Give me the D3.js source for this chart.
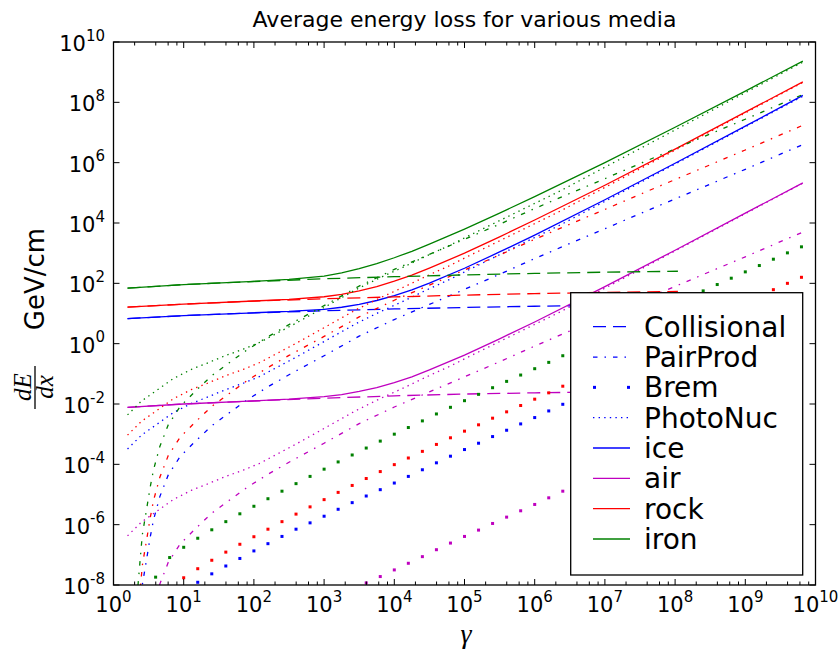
<!DOCTYPE html>
<html><head><meta charset="utf-8">
<script src="https://cdn.jsdelivr.net/npm/d3@7"></script>
<style>body{margin:0;background:#fff} svg{display:block}</style>
</head><body>
<svg id="chart" width="839" height="651"></svg>
<script>
// All series: [log10(gamma), log10(dE/dx  GeV/cm)]
const iceCollisional  = [[0.2,0.83],[1,0.93],[2,1.02],[3,1.09],[4,1.15],[5,1.20],[6,1.24],[7,1.27],[8.04,1.30]];
const airCollisional  = [[0.2,-2.11],[1,-2.0],[2,-1.9],[3,-1.81],[4,-1.73],[5,-1.67],[6,-1.63],[7,-1.60],[8.04,-1.57]];
const rockCollisional = [[0.2,1.21],[1,1.31],[2,1.41],[3,1.49],[4,1.55],[5,1.61],[6,1.66],[7,1.70],[8.04,1.73]];
const ironCollisional = [[0.2,1.84],[1,1.96],[2,2.06],[3,2.15],[4,2.22],[5,2.28],[6,2.33],[7,2.37],[8.04,2.40]];

const icePairProd  = [[0.30,-11.0],[0.41,-8.0],[0.47,-7.17],[0.52,-6.45],[0.57,-5.84],[0.66,-5.07],[0.78,-4.35],[0.95,-3.74],[1.16,-3.25],[1.4,-2.72],[1.65,-2.29],[1.9,-1.87],[2.2,-1.43],[2.5,-1.03],[3.0,-0.40],[3.5,0.25],[4.0,0.80],[4.5,1.30],[5.0,1.80],[5.5,2.30],[6.0,2.82],[6.5,3.32],[7.0,3.81],[7.5,4.31],[8.0,4.80],[8.5,5.29],[9.0,5.78],[9.5,6.28],[9.82,6.60]];
const airPairProd  = [[0.30,-13.9],[0.41,-10.9],[0.47,-10.07],[0.52,-9.35],[0.57,-8.74],[0.66,-7.97],[0.78,-7.25],[0.95,-6.64],[1.16,-6.15],[1.4,-5.62],[1.65,-5.19],[1.9,-4.77],[2.2,-4.33],[2.5,-3.93],[3.0,-3.30],[3.5,-2.65],[4.0,-2.10],[4.5,-1.60],[5.0,-1.10],[5.5,-0.60],[6.0,-0.08],[6.5,0.42],[7.0,0.91],[7.5,1.41],[8.0,1.90],[8.5,2.39],[9.0,2.88],[9.5,3.38],[9.82,3.70]];
const rockPairProd = [[0.30,-10.36],[0.41,-7.36],[0.47,-6.53],[0.52,-5.81],[0.57,-5.20],[0.66,-4.43],[0.78,-3.71],[0.95,-3.10],[1.16,-2.61],[1.4,-2.08],[1.65,-1.65],[1.9,-1.23],[2.2,-0.79],[2.5,-0.39],[3.0,0.24],[3.5,0.89],[4.0,1.44],[4.5,1.94],[5.0,2.44],[5.5,2.94],[6.0,3.46],[6.5,3.96],[7.0,4.45],[7.5,4.95],[8.0,5.44],[8.5,5.93],[9.0,6.42],[9.5,6.92],[9.82,7.24]];
const ironPairProd = [[0.30,-9.34],[0.41,-6.34],[0.47,-5.51],[0.52,-4.79],[0.57,-4.18],[0.66,-3.41],[0.78,-2.69],[0.95,-2.08],[1.16,-1.59],[1.4,-1.06],[1.65,-0.63],[1.9,-0.21],[2.2,0.23],[2.5,0.63],[3.0,1.26],[3.5,1.91],[4.0,2.46],[4.5,2.96],[5.0,3.46],[5.5,3.96],[6.0,4.48],[6.5,4.98],[7.0,5.47],[7.5,5.97],[8.0,6.46],[8.5,6.95],[9.0,7.44],[9.5,7.94],[9.82,8.26]];

const icePhotoNuc  = [[0.2,-3.49],[0.4,-3.03],[0.62,-2.67],[0.85,-2.29],[1.11,-1.98],[1.33,-1.78],[1.59,-1.53],[1.85,-1.31],[2.09,-1.08],[2.3,-0.82],[2.6,-0.45],[3.0,0.07],[3.46,0.67],[3.8,1.06],[4.13,1.41],[4.46,1.78],[4.79,2.13],[5.08,2.47],[6.36,3.93],[7.64,5.51],[9.82,8.2]];
const airPhotoNuc  = [[0.2,-6.37],[0.4,-5.91],[0.62,-5.55],[0.85,-5.17],[1.11,-4.86],[1.33,-4.66],[1.59,-4.41],[1.85,-4.19],[2.09,-3.96],[2.3,-3.70],[2.6,-3.33],[3.0,-2.81],[3.46,-2.21],[3.8,-1.82],[4.13,-1.47],[4.46,-1.10],[4.79,-0.75],[5.08,-0.41],[6.36,1.05],[7.64,2.63],[9.82,5.32]];
const rockPhotoNuc = [[0.2,-3.03],[0.4,-2.57],[0.62,-2.21],[0.85,-1.83],[1.11,-1.52],[1.33,-1.32],[1.59,-1.07],[1.85,-0.85],[2.09,-0.62],[2.3,-0.36],[2.6,0.01],[3.0,0.53],[3.46,1.13],[3.8,1.52],[4.13,1.87],[4.46,2.24],[4.79,2.59],[5.08,2.93],[6.36,4.39],[7.64,5.97],[9.82,8.66]];
const ironPhotoNuc = [[0.2,-2.36],[0.4,-1.90],[0.62,-1.54],[0.85,-1.16],[1.11,-0.85],[1.33,-0.65],[1.59,-0.40],[1.85,-0.18],[2.09,0.05],[2.3,0.31],[2.6,0.68],[3.0,1.20],[3.46,1.80],[3.8,2.19],[4.13,2.54],[4.46,2.91],[4.79,3.26],[5.08,3.60],[6.36,5.06],[7.64,6.64],[9.82,9.33]];

const iceTotal  = [[0.2,0.83],[1,0.93],[2,1.024],[2.5,1.069],[3,1.14],[3.25,1.207],[3.5,1.305],[3.75,1.431],[4,1.59],[4.25,1.78],[4.5,2.01],[5,2.50],[5.5,3.04],[6,3.60],[7,4.77],[8,5.98],[9,7.21],[9.82,8.23]];
const airTotal  = [[0.2,-2.11],[1,-2.0],[2,-1.896],[2.5,-1.841],[3,-1.758],[3.25,-1.686],[3.5,-1.582],[3.75,-1.454],[4,-1.29],[4.25,-1.102],[4.5,-0.872],[5,-0.38],[5.5,0.161],[6,0.718],[7,1.889],[8,3.098],[9,4.326],[9.82,5.33]];
const rockTotal = [[0.2,1.21],[1,1.31],[2,1.415],[2.5,1.468],[3,1.555],[3.25,1.633],[3.5,1.75],[3.75,1.89],[4,2.07],[4.25,2.27],[4.5,2.505],[5,3.0],[5.5,3.54],[6,4.10],[7,5.25],[8,6.45],[9,7.675],[9.82,8.676]];
const ironTotal = [[0.2,1.84],[1,1.96],[2,2.067],[2.5,2.131],[3,2.242],[3.25,2.343],[3.5,2.484],[3.75,2.65],[4,2.848],[4.25,3.062],[4.5,3.30],[5,3.80],[5.5,4.33],[6,4.876],[7,6.0],[8,7.173],[9,8.374],[9.82,9.366]];

// Brem is drawn as markers on the computation grid
const bremLogGamma = [0.2,0.4,0.6,0.8,1.0,1.2,1.4,1.6,1.8,2.0,2.2,2.4,2.6,2.8,3.0,3.2,3.4,3.6,3.8,4.0,4.2,4.4,4.6,4.8,5.0,5.2,5.4,5.6,5.8,6.0,6.2,6.4,6.6,6.8,7.0,7.2,7.4,7.6,7.8,8.0,8.2,8.4,8.6,8.8,9.0,9.2,9.4,9.6,9.8];
const iceBrem  = [-13.5,-11.0,-9.22,-8.57,-8.22,-7.91,-7.63,-7.37,-7.12,-6.87,-6.63,-6.39,-6.15,-5.94,-5.72,-5.49,-5.27,-5.05,-4.84,-4.62,-4.40,-4.18,-3.95,-3.73,-3.51,-3.30,-3.08,-2.87,-2.66,-2.45,-2.23,-2.01,-1.80,-1.59,-1.38,-1.16,-0.95,-0.74,-0.53,-0.32,-0.10,0.11,0.32,0.53,0.74,0.95,1.16,1.37,1.58];
const airBrem  = [-16.4,-13.9,-12.1,-11.45,-11.1,-10.79,-10.51,-10.25,-10.0,-9.75,-9.51,-9.27,-9.03,-8.82,-8.60,-8.37,-8.15,-7.93,-7.72,-7.50,-7.28,-7.06,-6.83,-6.61,-6.39,-6.18,-5.96,-5.75,-5.54,-5.33,-5.11,-4.89,-4.68,-4.47,-4.26,-4.04,-3.83,-3.62,-3.41,-3.20,-2.98,-2.77,-2.56,-2.35,-2.14,-1.93,-1.72,-1.51,-1.30];
const rockBrem = [-13.0,-10.5,-8.75,-8.10,-7.76,-7.46,-7.18,-6.91,-6.65,-6.40,-6.15,-5.90,-5.65,-5.41,-5.17,-4.93,-4.70,-4.47,-4.24,-4.01,-3.79,-3.57,-3.34,-3.12,-2.90,-2.69,-2.47,-2.26,-2.05,-1.84,-1.63,-1.41,-1.20,-0.98,-0.77,-0.56,-0.34,-0.13,0.09,0.30,0.52,0.74,0.95,1.16,1.37,1.58,1.79,2.00,2.20];
const ironBrem = [-12.0,-9.5,-7.74,-7.09,-6.75,-6.45,-6.17,-5.90,-5.64,-5.39,-5.14,-4.89,-4.64,-4.40,-4.16,-3.92,-3.69,-3.46,-3.23,-3.00,-2.78,-2.56,-2.33,-2.11,-1.89,-1.68,-1.46,-1.25,-1.04,-0.83,-0.62,-0.40,-0.19,0.03,0.24,0.45,0.67,0.88,1.10,1.31,1.53,1.75,1.96,2.17,2.38,2.59,2.80,3.01,3.21];

const xTickExponents = [0,1,2,3,4,5,6,7,8,9,10];
const yTickExponents = [-8,-6,-4,-2,0,2,4,6,8,10];
const minorMultipliers = [2,4,6,8];
const legendLabels = ["Collisional","PairProd","Brem","PhotoNuc","ice","air","rock","iron"];
const mediaNames = ["ice","air","rock","iron"];
const mediaColors = ["#0000ff","#bf00bf","#ff0000","#008000"];

const media = [
  {coll: iceCollisional, pair: icePairProd, brem: iceBrem, photo: icePhotoNuc, total: iceTotal},
  {coll: airCollisional, pair: airPairProd, brem: airBrem, photo: airPhotoNuc, total: airTotal},
  {coll: rockCollisional, pair: rockPairProd, brem: rockBrem, photo: rockPhotoNuc, total: rockTotal},
  {coll: ironCollisional, pair: ironPairProd, brem: ironBrem, photo: ironPhotoNuc, total: ironTotal}
].map((m,i)=>Object.assign(m,{name:mediaNames[i], color:mediaColors[i]}));

const L = 113.5, R = 815.5, T = 42, B = 585;
const x = d3.scaleLog().domain([1,1e10]).range([L,R]);
const y = d3.scaleLog().domain([1e-8,1e10]).range([B,T]);
const svg = d3.select("#chart");
const font = "DejaVu Sans, sans-serif";
const serif = "Liberation Serif, DejaVu Serif, serif";
const STYLES = { dashed: "13,7", dashdot: "4.5,7,1.5,7", dotted: "1.4,4.2" };
const LW = 1.3;

svg.append("rect").attr("width",839).attr("height",651).attr("fill","#fff");
svg.append("clipPath").attr("id","clip").append("rect")
  .attr("x",L).attr("y",T).attr("width",R-L).attr("height",B-T);

const pw = v => Math.pow(10, v);
const line = d3.line().x(d=>x(pw(d[0]))).y(d=>y(pw(d[1])));
const plot = svg.append("g").attr("clip-path","url(#clip)");

media.forEach(m=>{
  plot.append("path").attr("d",line(m.coll)).attr("fill","none").attr("stroke",m.color)
    .attr("stroke-width",LW).attr("stroke-dasharray",STYLES.dashed);
  plot.append("path").attr("d",line(m.pair)).attr("fill","none").attr("stroke",m.color)
    .attr("stroke-width",LW).attr("stroke-dasharray",STYLES.dashdot);
  plot.append("g").selectAll("rect").data(bremLogGamma.map((g,i)=>[g,m.brem[i]]))
    .join("rect")
    .attr("x",d=>x(pw(d[0]))-1.5).attr("y",d=>y(pw(d[1]))-1.5)
    .attr("width",3).attr("height",3).attr("fill",m.color);
  plot.append("path").attr("d",line(m.photo)).attr("fill","none").attr("stroke",m.color)
    .attr("stroke-width",LW).attr("stroke-dasharray",STYLES.dotted);
  plot.append("path").attr("d",line(m.total)).attr("fill","none").attr("stroke",m.color)
    .attr("stroke-width",LW);
});

// frame
svg.append("rect").attr("x",L).attr("y",T).attr("width",R-L).attr("height",B-T)
  .attr("fill","none").attr("stroke","#000").attr("stroke-width",1.3);

// ticks (inward, all four sides)
const tk = svg.append("g").attr("stroke","#000").attr("stroke-width",1);
const MAJ = 6, MIN = 3.5;
xTickExponents.forEach(e=>{
  const xv = x(pw(e));
  tk.append("line").attr("x1",xv).attr("x2",xv).attr("y1",B).attr("y2",B-MAJ);
  tk.append("line").attr("x1",xv).attr("x2",xv).attr("y1",T).attr("y2",T+MAJ);
  if (e < 10) minorMultipliers.forEach(mm=>{
    const xm = x(mm*pw(e));
    tk.append("line").attr("x1",xm).attr("x2",xm).attr("y1",B).attr("y2",B-MIN);
    tk.append("line").attr("x1",xm).attr("x2",xm).attr("y1",T).attr("y2",T+MIN);
  });
});
yTickExponents.forEach(e=>{
  const yv = y(pw(e));
  tk.append("line").attr("x1",L).attr("x2",L+MAJ).attr("y1",yv).attr("y2",yv);
  tk.append("line").attr("x1",R).attr("x2",R-MAJ).attr("y1",yv).attr("y2",yv);
});

// tick labels
const lab = svg.append("g").attr("font-family",font).attr("fill","#000");
xTickExponents.forEach(e=>{
  const t = lab.append("text").attr("x",x(pw(e))).attr("y",B+27)
    .attr("text-anchor","middle").attr("font-size",21);
  t.append("tspan").text("10");
  t.append("tspan").attr("dy",-10.5).attr("font-size",15).text(String(e));
});
yTickExponents.forEach(e=>{
  const t = lab.append("text").attr("x",105).attr("y",y(pw(e))+9)
    .attr("text-anchor","end").attr("font-size",21);
  t.append("tspan").text("10");
  t.append("tspan").attr("dy",-10.5).attr("font-size",15).text(String(e));
});

// title
svg.append("text").attr("x",(L+R)/2).attr("y",27).attr("text-anchor","middle")
  .attr("font-family",font).attr("font-size",22).text("Average energy loss for various media");

// x label
svg.append("text").attr("x",466).attr("y",643).attr("text-anchor","middle")
  .attr("font-family",serif).attr("font-style","italic")
  .attr("font-size",28).text("γ");

// y label: fraction dE/dx followed by GeV/cm, rotated
svg.append("text").attr("transform","translate(31,387) rotate(-90)").attr("text-anchor","middle")
  .attr("font-family",serif).attr("font-style","italic").attr("font-size",25).text("dE");
svg.append("line").attr("x1",35).attr("x2",35).attr("y1",366).attr("y2",409)
  .attr("stroke","#000").attr("stroke-width",1.3);
svg.append("text").attr("transform","translate(53,387) rotate(-90)").attr("text-anchor","middle")
  .attr("font-family",serif).attr("font-style","italic").attr("font-size",25).text("dx");
svg.append("text").attr("transform","translate(44,279) rotate(-90)").attr("text-anchor","middle")
  .attr("font-family",font).attr("font-size",26).text("GeV/cm");

// legend
const lg = svg.append("g");
lg.append("rect").attr("x",570.7).attr("y",292.7).attr("width",232).attr("height",282.3)
  .attr("fill","#fff").attr("stroke","#000").attr("stroke-width",1.3);
const rowY = i => 326.7 + 30.33*i;
const hx0 = 593, hx1 = 630;
legendLabels.forEach((lbl,i)=>{
  const yy = rowY(i);
  if (i < 4) {
    const c = mediaColors[0];
    if (i === 2) {
      [hx0+1.5, hx1-1.5].forEach(px=>lg.append("rect").attr("x",px-1.5).attr("y",yy-1.5)
        .attr("width",3).attr("height",3).attr("fill",c));
    } else {
      const da = [STYLES.dashed, STYLES.dashdot, null, STYLES.dotted][i];
      lg.append("line").attr("x1",hx0).attr("x2",hx1).attr("y1",yy).attr("y2",yy)
        .attr("stroke",c).attr("stroke-width",LW).attr("stroke-dasharray",da);
    }
  } else {
    lg.append("line").attr("x1",hx0).attr("x2",hx1).attr("y1",yy).attr("y2",yy)
      .attr("stroke",mediaColors[i-4]).attr("stroke-width",LW);
  }
  lg.append("text").attr("x",644).attr("y",yy+10).attr("font-family",font)
    .attr("font-size",28).text(lbl);
});
</script>
</body></html>
